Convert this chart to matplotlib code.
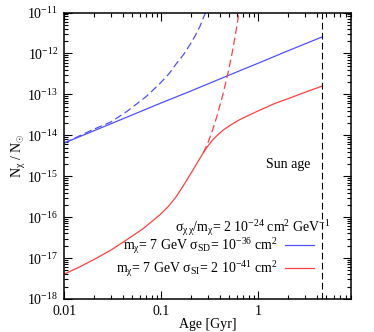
import matplotlib
matplotlib.use("Agg")
import matplotlib.pyplot as plt
from matplotlib.lines import Line2D
from matplotlib.ticker import LogLocator, NullFormatter

# values (age in Gyr, N_chi / N_sun)
sd_age = [0.01, 0.03, 0.1, 0.2, 0.49, 1.0, 2.0, 4.57]
sd_solid = [6.5e-15, 1.9e-14, 6.2e-14, 1.2e-13, 2.9e-13, 5.8e-13, 1.15e-12, 2.55e-12]

sd_dash_age = [0.01, 0.02, 0.03, 0.044, 0.07, 0.097, 0.12, 0.144, 0.17, 0.198,
               0.225, 0.25, 0.265, 0.286, 0.30]
sd_dash = [6.5e-15, 1.4e-14, 2.1e-14, 3.8e-14, 8.9e-14, 1.86e-13, 3.2e-13, 5.8e-13,
           9.5e-13, 1.67e-12, 2.8e-12, 4.6e-12, 6.6e-12, 1.0e-11, 1.35e-11]

si_age = [0.01, 0.014, 0.02, 0.03, 0.044, 0.065, 0.097, 0.12, 0.144, 0.175, 0.213,
          0.24, 0.27, 0.30, 0.34, 0.38, 0.435, 0.52, 0.65, 0.96, 1.45, 2.1, 3.1, 4.57]
si_solid = [4.07e-18, 5.9e-18, 9.1e-18, 1.55e-17, 2.8e-17, 5.25e-17, 1.15e-16, 1.9e-16,
            3.3e-16, 6.8e-16, 1.45e-15, 2.35e-15, 3.7e-15, 5.4e-15, 7.8e-15, 1.02e-14,
            1.35e-14, 1.8e-14, 2.45e-14, 3.8e-14, 5.9e-14, 8.1e-14, 1.15e-13, 1.6e-13]

si_dash_age = [0.27, 0.30, 0.335, 0.372, 0.43, 0.49, 0.53, 0.574, 0.61, 0.636]
si_dash = [3.7e-15, 6.3e-15, 1.29e-14, 2.8e-14, 9.8e-14, 3.6e-13, 8.9e-13, 2.5e-12,
           6.0e-12, 1.17e-11]

sun_age = 4.57

x_ticks = [0.01, 0.1, 1]
x_labels = ["0.01", "0.1", "1"]
y_ticks = [1e-18, 1e-17, 1e-16, 1e-15, 1e-14, 1e-13, 1e-12, 1e-11]

BLUE = "#5050ff"
RED = "#ff4040"

plt.rcParams["font.family"] = "serif"
plt.rcParams["font.serif"] = ["Liberation Serif", "DejaVu Serif"]
plt.rcParams["mathtext.fontset"] = "custom"
plt.rcParams["mathtext.rm"] = "Liberation Serif"
plt.rcParams["mathtext.it"] = "Liberation Serif:italic"
plt.rcParams["font.size"] = 10

fig = plt.figure(figsize=(3.74, 3.32), dpi=100)
ax = fig.add_axes([0.172, 0.0994, 0.7665, 0.8629])

ax.plot(sd_age, sd_solid, color=BLUE, lw=0.9)
ax.plot(sd_dash_age, sd_dash, color=BLUE, lw=0.9, dashes=(6, 3))
ax.plot(si_age, si_solid, color=RED, lw=0.9)
ax.plot(si_dash_age, si_dash, color=RED, lw=0.9, dashes=(6, 3))
ax.axvline(sun_age, color="black", lw=0.8, dashes=(6, 3))

ax.set_xscale("log")
ax.set_yscale("log")
ax.set_xlim(0.01, 9)
ax.set_ylim(1e-18, 1e-11)
ax.set_xticks(x_ticks)
ax.set_xticklabels(x_labels)
ax.set_yticks(y_ticks)
ax.yaxis.set_minor_locator(LogLocator(base=10, subs=range(2, 10), numticks=20))
ax.yaxis.set_minor_formatter(NullFormatter())
ax.xaxis.set_minor_locator(LogLocator(base=10, subs=range(2, 10), numticks=20))
ax.xaxis.set_minor_formatter(NullFormatter())

ax.tick_params(which="both", direction="in", top=True, right=True, width=0.8)
ax.tick_params(which="major", length=5.5, pad=4.5)
ax.tick_params(which="minor", length=2.9)
for s in ax.spines.values():
    s.set_linewidth(1.1)

ax.set_xlabel("Age [Gyr]")
ax.set_ylabel(r"N$_{\mathrm{χ}}$ / N$_{\odot}$")
ax.xaxis.set_label_coords(0.5, -0.066)
ax.yaxis.set_label_coords(-0.125, 0.5)

ax.text(0.86, 0.47, "Sun age", transform=ax.transAxes, ha="right", va="center")

ax.text(0.93, 0.249, r"σ$_{\mathrm{χ\,χ}}$/m$_{\mathrm{χ}}$= 2 10$^{-24}$ cm$^2$ GeV$^{-1}$",
        transform=ax.transAxes, ha="right", va="center")

handles = [Line2D([], [], color=BLUE, lw=0.9), Line2D([], [], color=RED, lw=0.9)]
labels = [r"m$_{\mathrm{χ}}$= 7 GeV σ$_{\mathrm{SD}}$= 10$^{-36}$ cm$^2$",
          r"m$_{\mathrm{χ}}$= 7 GeV σ$_{\mathrm{SI}}$= 2 10$^{-41}$ cm$^2$"]
ax.legend(handles, labels, loc="upper right", bbox_to_anchor=(0.871, 0.22),
          markerfirst=False, frameon=False, borderpad=0, borderaxespad=0,
          handlelength=2.1, handletextpad=0.5, labelspacing=0.25)

fig.savefig("out.png", dpi=100)
